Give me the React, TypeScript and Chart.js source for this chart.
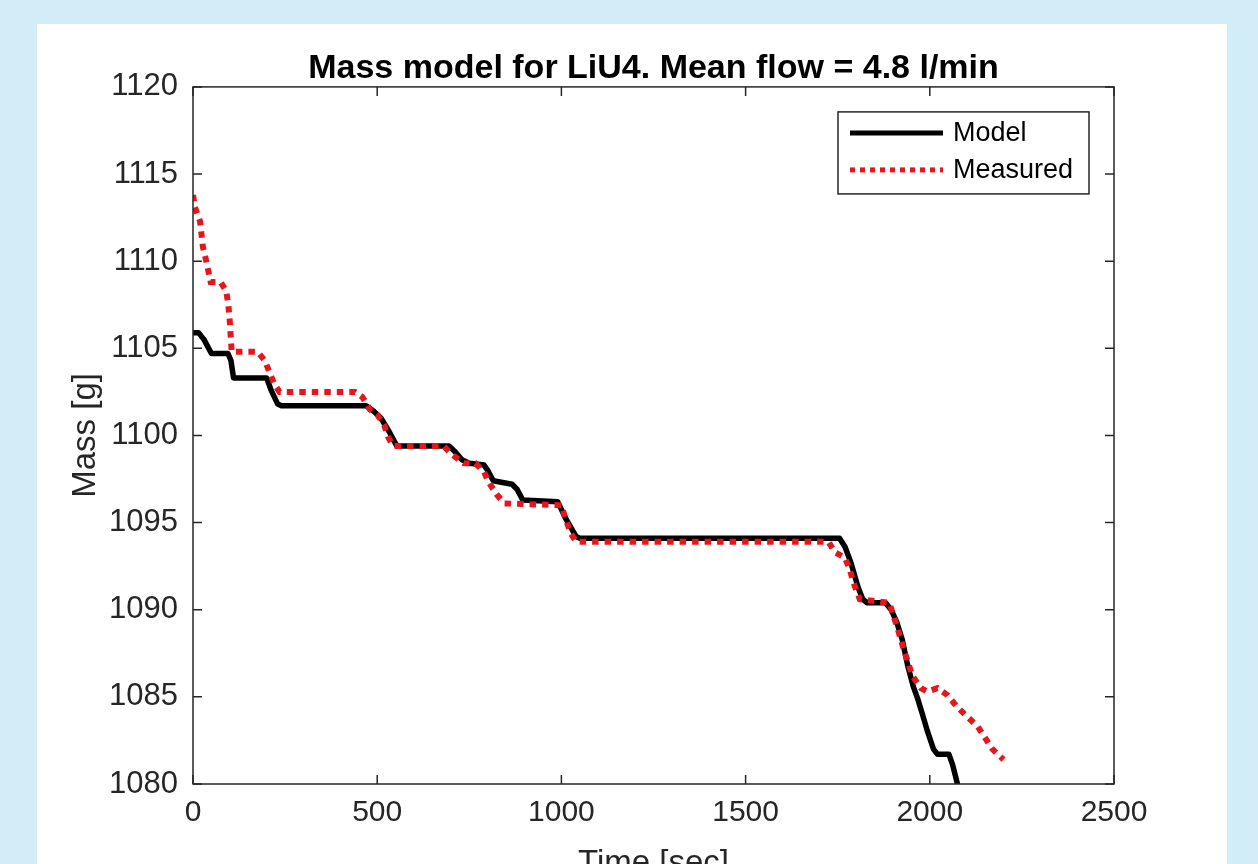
import React, { useEffect, useRef } from "react";
import { Chart, registerables } from "chart.js";

Chart.register(...registerables);

// ---------------- data ----------------
const titleText = "Mass model for LiU4. Mean flow = 4.8 l/min";
const xLabel = "Time [sec]";
const yLabel = "Mass [g]";
const seriesNames = ["Model", "Measured"];

const xTickValues = [0, 500, 1000, 1500, 2000, 2500];
const yTickValues = [1080, 1085, 1090, 1095, 1100, 1105, 1110, 1115, 1120];

const modelTime = [
  0, 15, 30, 50, 95, 103, 110, 200, 212, 230, 240, 470, 490, 510, 533, 553, 695, 710, 730, 750, 790, 800, 815,
  866, 880, 895, 990, 1010, 1040, 1050, 1755, 1770, 1786, 1805, 1818, 1830, 1880, 1895, 1910, 1925, 1940, 1955,
  1967, 1980, 1994, 2010, 2021, 2052, 2062, 2075, 2090,
];
const modelMass = [
  1105.9, 1105.9, 1105.5, 1104.7, 1104.7, 1104.3, 1103.3, 1103.3, 1102.6, 1101.8, 1101.7, 1101.7, 1101.4, 1101.0,
  1100.2, 1099.4, 1099.4, 1099.1, 1098.6, 1098.4, 1098.3, 1098.0, 1097.4, 1097.2, 1096.9, 1096.3, 1096.2, 1095.3,
  1094.2, 1094.1, 1094.1, 1093.6, 1092.7, 1091.3, 1090.6, 1090.4, 1090.4, 1090.0, 1089.3, 1088.3, 1086.8, 1085.6,
  1084.9, 1084.0, 1083.0, 1082.0, 1081.7, 1081.7, 1081.1, 1080.0, 1079.0,
];

const measuredTime = [
  0, 5, 19, 27, 35, 41, 48, 75, 90, 96, 100, 105, 175, 195, 208, 222, 235, 440, 460, 480, 500, 519, 530, 543, 680,
  703, 736, 767, 790, 803, 825, 845, 1000, 1010, 1025, 1040, 1725, 1742, 1769, 1783, 1792, 1810, 1890, 1913, 1931,
  1953, 1976, 1994, 2021, 2048, 2075, 2130, 2170, 2200,
];
const measuredMass = [
  1113.8, 1113.1, 1112.3, 1110.8, 1110.1, 1109.5, 1108.8, 1108.8, 1108.3, 1107.5, 1106.5, 1104.8, 1104.8, 1104.3,
  1103.6, 1102.9, 1102.5, 1102.5, 1102.2, 1101.5, 1101.2, 1100.6, 1099.9, 1099.4, 1099.4, 1098.9, 1098.4, 1098.4,
  1097.9, 1097.3, 1096.6, 1096.1, 1096.0, 1095.3, 1094.4, 1093.9, 1093.9, 1093.3, 1093.0, 1092.3, 1091.6, 1090.6,
  1090.4, 1088.9, 1087.6, 1086.2, 1085.5, 1085.3, 1085.5, 1085.1, 1084.4, 1083.3, 1082.0, 1081.4,
];

// ---------------- styles ----------------
const FONT = "'Liberation Sans', Arial, Helvetica, sans-serif";
const RED = "rgb(232, 22, 28)";
const AXIS = "#262626";
const BLUE_BG = "rgb(210, 236, 248)";

const CANVAS_W = 1190;
const CANVAS_H = 880;

const matlabPlugin = {
  id: "matlabBox",
  afterDraw(chart: any) {
    const { ctx, chartArea: a, scales } = chart;
    const xs = scales.x;
    const ys = scales.y;
    ctx.save();
    // box
    ctx.strokeStyle = AXIS;
    ctx.lineWidth = 1.5;
    ctx.strokeRect(a.left, a.top, a.right - a.left, a.bottom - a.top);
    // inward ticks on all sides
    const L = 9;
    ctx.beginPath();
    xs.ticks.forEach((t: any) => {
      const px = xs.getPixelForValue(t.value);
      ctx.moveTo(px, a.bottom);
      ctx.lineTo(px, a.bottom - L);
      ctx.moveTo(px, a.top);
      ctx.lineTo(px, a.top + L);
    });
    ys.ticks.forEach((t: any) => {
      const py = ys.getPixelForValue(t.value);
      ctx.moveTo(a.left, py);
      ctx.lineTo(a.left + L, py);
      ctx.moveTo(a.right, py);
      ctx.lineTo(a.right - L, py);
    });
    ctx.stroke();

    // legend box
    const bw = 251;
    const bh = 82;
    const bx = a.right - 25 - bw;
    const by = a.top + 25;
    ctx.fillStyle = "#ffffff";
    ctx.fillRect(bx, by, bw, bh);
    ctx.strokeStyle = AXIS;
    ctx.lineWidth = 1.5;
    ctx.strokeRect(bx, by, bw, bh);
    const ds = chart.data.datasets;
    const rows = [by + 21, by + 58];
    ds.forEach((d: any, i: number) => {
      const yy = rows[i];
      ctx.save();
      ctx.strokeStyle = d.borderColor;
      ctx.lineWidth = 5;
      ctx.lineCap = "butt";
      ctx.setLineDash(d.borderDash && d.borderDash.length ? [5, 5] : []);
      ctx.beginPath();
      ctx.moveTo(bx + 12, yy);
      ctx.lineTo(bx + 105, yy);
      ctx.stroke();
      ctx.restore();
      ctx.fillStyle = "#000";
      ctx.font = `27px ${FONT}`;
      ctx.textAlign = "left";
      ctx.textBaseline = "middle";
      ctx.fillText(d.label, bx + 115, yy + 1);
    });
    ctx.restore();
  },
};

export default function App() {
  const canvasRef = useRef<HTMLCanvasElement | null>(null);

  useEffect(() => {
    const canvas = canvasRef.current;
    if (!canvas) return;
    const modelPoints = modelTime.map((t, i) => ({ x: t, y: modelMass[i] }));
    const measuredPoints = measuredTime.map((t, i) => ({ x: t, y: measuredMass[i] }));

    const chart = new Chart(canvas, {
      type: "line",
      data: {
        datasets: [
          {
            label: seriesNames[0],
            data: modelPoints,
            borderColor: "#000000",
            backgroundColor: "#000000",
            borderWidth: 5.5,
            pointRadius: 0,
            tension: 0,
            borderJoinStyle: "round",
            borderCapStyle: "butt",
            order: 2,
          },
          {
            label: seriesNames[1],
            data: measuredPoints,
            borderColor: RED,
            backgroundColor: RED,
            borderWidth: 6,
            borderDash: [6.5, 6],
            pointRadius: 0,
            tension: 0,
            borderCapStyle: "butt",
            order: 1,
          },
        ],
      },
      options: {
        responsive: false,
        animation: false,
        layout: { padding: { left: 0, right: 113, top: 0, bottom: 0 } },
        plugins: {
          legend: { display: false },
          tooltip: { enabled: false },
          title: {
            display: true,
            text: titleText,
            fullSize: false,
            color: "#000000",
            font: { family: FONT, size: 34, weight: "bold", lineHeight: 1.1 },
            padding: { top: 25.5, bottom: 0 },
          },
        },
        scales: {
          x: {
            type: "linear",
            min: 0,
            max: 2500,
            afterBuildTicks: (scale: any) => {
              scale.ticks = xTickValues.map((v) => ({ value: v }));
            },
            afterFit: (scale: any) => {
              scale.height = CANVAS_H - 760;
            },
            grid: { display: false, drawTicks: false },
            border: { display: false },
            ticks: {
              color: AXIS,
              padding: 11,
              font: { family: FONT, size: 30 },
              maxRotation: 0,
              autoSkip: false,
              callback: (v: any) => String(v),
            },
            title: {
              display: true,
              text: xLabel,
              color: AXIS,
              font: { family: FONT, size: 33 },
              padding: { top: 0, bottom: 20 },
            },
          },
          y: {
            type: "linear",
            min: 1080,
            max: 1120,
            afterBuildTicks: (scale: any) => {
              scale.ticks = yTickValues.map((v) => ({ value: v }));
            },
            afterFit: (scale: any) => {
              scale.width = 156;
            },
            grid: { display: false, drawTicks: false },
            border: { display: false },
            ticks: {
              color: AXIS,
              padding: 15,
              font: { family: FONT, size: 31 },
              autoSkip: false,
              callback: (v: any) => String(v),
            },
            title: {
              display: true,
              text: yLabel,
              color: AXIS,
              font: { family: FONT, size: 33 },
              padding: { top: 29, bottom: 0 },
            },
          },
        },
      },
      plugins: [matlabPlugin],
    });
    return () => chart.destroy();
  }, []);

  return (
    <div
      style={{
        position: "fixed",
        left: 0,
        top: 0,
        width: 1258,
        height: 864,
        overflow: "hidden",
        background: BLUE_BG,
      }}
    >
      <div
        style={{
          position: "absolute",
          left: 37,
          top: 24,
          width: CANVAS_W,
          height: CANVAS_H,
          background: "#ffffff",
        }}
      >
        <canvas
          ref={canvasRef}
          width={CANVAS_W}
          height={CANVAS_H}
          style={{ display: "block", width: CANVAS_W, height: CANVAS_H }}
        />
      </div>
    </div>
  );
}
